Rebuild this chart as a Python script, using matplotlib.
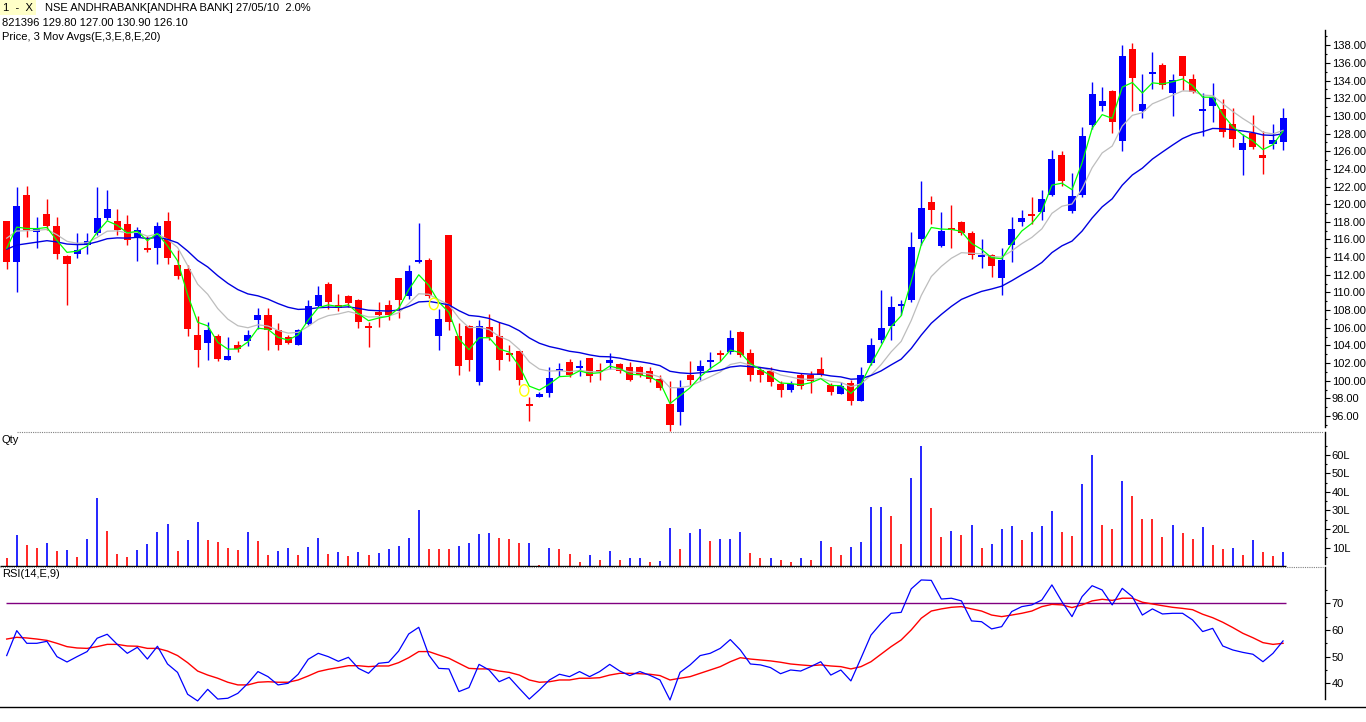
import numpy as np
import matplotlib
matplotlib.use("Agg")
import matplotlib.pyplot as plt
from matplotlib.lines import Line2D
from matplotlib.patches import Rectangle, Ellipse
from matplotlib.ticker import MultipleLocator, FixedLocator, FuncFormatter

# ---------------- data ----------------
opens = [118.1, 113.4, 121.0, 116.8, 118.9, 117.5, 114.1, 114.4, 115.4, 116.7,
         118.4, 118.1, 117.7, 116.3, 115.0, 115.0, 118.1, 113.1, 112.6, 105.2,
         104.3, 105.1, 102.4, 104.1, 104.5, 106.9, 107.5, 105.7, 104.9, 104.0,
         106.4, 108.5, 111.0, 108.6, 109.6, 109.1, 106.2, 107.8, 108.6, 111.6,
         109.6, 113.5, 113.7, 105.1, 116.5, 105.1, 106.2, 99.9, 106.1, 105.1,
         103.1, 103.4, 97.3, 98.1, 98.6, 101.1, 102.1, 101.5, 102.6, 101.1,
         102.0, 101.9, 101.6, 101.6, 101.1, 100.2, 97.4, 96.4, 100.6, 101.1,
         102.1, 103.1, 103.2, 105.5, 103.1, 101.2, 101.1, 99.6, 98.9, 100.7,
         100.6, 101.3, 99.5, 98.5, 99.7, 97.7, 102.0, 104.6, 106.2, 108.5,
         109.1, 116.0, 120.2, 115.3, 117.3, 118.0, 116.7, 114.0, 114.2, 111.6,
         115.4, 118.0, 118.9, 119.1, 121.0, 125.6, 119.2, 121.0, 129.0, 131.1,
         132.8, 127.1, 137.6, 130.5, 134.75, 135.8, 132.6, 136.8, 134.2, 130.5,
         131.1, 130.8, 129.1, 126.1, 128.1, 125.6, 126.8, 127.0]
highs = [118.1, 121.9, 122.1, 118.5, 120.6, 118.6, 114.2, 116.7, 116.7, 121.9,
         121.6, 119.5, 118.8, 117.4, 116.4, 118.0, 119.1, 114.8, 113.1, 107.3,
         106.6, 105.3, 105.0, 104.5, 105.8, 108.2, 108.2, 106.5, 105.2, 105.9,
         109.1, 110.7, 111.2, 109.8, 109.7, 109.3, 106.6, 108.9, 109.1, 111.6,
         113.1, 117.9, 113.9, 108.1, 116.5, 106.5, 106.3, 106.9, 107.6, 106.6,
         104.0, 103.4, 98.2, 98.7, 101.6, 102.0, 102.5, 102.3, 102.6, 102.0,
         103.1, 102.0, 102.1, 101.7, 101.5, 100.7, 100.0, 100.1, 102.2, 102.4,
         103.2, 103.5, 105.7, 105.6, 103.6, 101.6, 101.6, 100.0, 100.0, 100.9,
         101.1, 102.7, 99.7, 99.8, 100.1, 101.6, 104.8, 110.3, 109.6, 109.1,
         116.9, 122.6, 120.9, 119.1, 119.9, 118.1, 117.0, 116.1, 114.3, 115.0,
         118.5, 119.3, 120.8, 121.6, 126.1, 126.0, 123.5, 128.7, 133.8, 133.3,
         132.9, 138.0, 138.3, 134.8, 137.2, 136.0, 134.7, 136.8, 134.8, 132.6,
         133.7, 131.9, 130.9, 127.9, 130.1, 128.3, 129.1, 130.9]
lows = [112.6, 110.1, 116.3, 115.0, 117.1, 113.8, 108.6, 113.9, 114.3, 116.5,
        118.2, 116.5, 115.4, 113.6, 114.6, 113.2, 113.2, 111.5, 105.1, 101.6,
        102.3, 102.2, 102.3, 103.2, 103.9, 105.9, 103.5, 103.5, 104.2, 104.0,
        106.3, 108.4, 108.1, 107.9, 108.3, 106.0, 103.8, 106.1, 106.9, 107.1,
        109.3, 113.3, 109.4, 103.5, 105.7, 100.6, 101.1, 99.5, 104.6, 101.2,
        102.2, 99.5, 95.4, 98.1, 98.1, 100.5, 100.4, 100.5, 99.8, 100.1,
        101.3, 100.9, 100.0, 100.4, 99.9, 98.9, 94.3, 95.0, 99.5, 100.1,
        101.3, 102.2, 103.0, 102.7, 100.0, 99.9, 99.4, 98.1, 98.7, 99.1,
        98.6, 100.5, 98.4, 98.5, 97.2, 97.7, 101.8, 104.3, 104.6, 107.4,
        108.9, 115.4, 117.7, 115.2, 115.0, 116.5, 113.8, 112.8, 111.8, 109.7,
        113.5, 117.5, 117.7, 118.2, 120.9, 122.1, 119.0, 120.8, 128.5, 130.6,
        128.1, 126.0, 130.5, 129.8, 133.0, 133.0, 130.0, 132.9, 132.6, 127.7,
        129.3, 127.6, 126.5, 123.3, 126.2, 123.4, 126.3, 126.1]
closes = [113.4, 119.8, 117.1, 117.2, 117.5, 114.4, 113.2, 114.8, 115.8, 118.4,
          119.4, 117.1, 115.9, 117.1, 114.8, 117.5, 113.9, 111.9, 105.9, 103.5,
          105.8, 102.5, 102.8, 103.6, 105.2, 107.5, 105.7, 104.0, 104.3, 105.8,
          108.5, 109.7, 108.9, 108.2, 108.8, 106.6, 106.0, 107.4, 107.5, 109.1,
          112.4, 113.7, 109.6, 107.0, 106.6, 101.7, 102.3, 106.2, 104.9, 102.3,
          102.9, 100.1, 97.1, 98.5, 100.3, 101.3, 100.6, 101.7, 100.5, 101.0,
          102.4, 101.1, 100.1, 100.6, 100.2, 99.2, 95.0, 99.2, 100.1, 101.7,
          102.3, 102.9, 104.8, 102.9, 100.7, 100.6, 99.9, 98.9, 99.6, 99.4,
          100.0, 100.7, 98.7, 99.4, 97.7, 100.7, 104.1, 106.0, 108.3, 108.6,
          115.1, 119.6, 119.3, 117.0, 117.1, 116.7, 114.2, 114.2, 113.0, 113.7,
          117.2, 118.4, 118.7, 120.6, 125.1, 122.6, 120.9, 127.7, 132.5, 131.7,
          129.3, 136.8, 134.3, 131.4, 134.9, 133.5, 134.1, 134.5, 132.7, 130.8,
          132.1, 128.2, 127.4, 126.9, 126.5, 125.2, 127.3, 129.8]

# volume in lakhs and its bar colour (1 = blue, 0 = red)
volume_lakh = [4.5, 16.6, 11.25, 9.6, 12.3, 8.0, 8.6, 4.8, 14.5, 37.0,
               18.75, 6.4, 4.8, 8.6, 11.8, 18.2, 22.5, 8.0, 13.9, 23.6,
               13.9, 12.9, 9.6, 8.6, 18.2, 13.4, 5.9, 8.0, 9.6, 5.9,
               10.2, 15.0, 6.4, 7.5, 5.4, 7.5, 5.9, 7.0, 9.1, 10.7,
               15.0, 30.5, 9.1, 9.1, 9.1, 10.7, 12.3, 17.1, 17.7, 15.0,
               14.5, 12.3, 12.3, 0.5, 9.6, 9.1, 6.4, 2.1, 5.9, 3.2,
               8.0, 3.2, 4.3, 4.3, 2.1, 2.7, 20.5, 9.1, 17.7, 19.8,
               13.4, 14.5, 14.5, 18.2, 7.0, 4.3, 4.3, 3.2, 2.1, 4.3,
               3.2, 13.4, 10.2, 5.9, 10.2, 12.9, 32.1, 32.1, 26.8, 11.8,
               47.7, 64.8, 31.1, 15.5, 18.75, 16.6, 22.0, 9.6, 11.8, 19.8,
               21.4, 13.9, 18.2, 21.4, 29.5, 18.2, 16.1, 44.5, 60.0, 22.0,
               19.8, 46.1, 38.0, 25.2, 25.2, 15.5, 22.0, 17.7, 14.5, 20.9,
               11.25, 9.1, 9.6, 5.9, 13.9, 7.5, 5.4, 7.5]
volume_up = [0, 1, 0, 0, 1, 0, 1, 0, 1, 1,
             0, 0, 0, 1, 1, 1, 1, 0, 1, 1,
             0, 0, 0, 0, 1, 0, 0, 1, 1, 0,
             1, 1, 0, 1, 0, 1, 0, 1, 1, 1,
             1, 1, 0, 0, 0, 1, 1, 1, 1, 0,
             0, 0, 1, 0, 1, 0, 0, 0, 1, 0,
             1, 0, 1, 1, 0, 1, 1, 0, 1, 1,
             0, 1, 1, 1, 0, 0, 1, 0, 0, 1,
             0, 1, 0, 0, 1, 1, 1, 1, 0, 0,
             1, 1, 0, 0, 1, 0, 1, 0, 1, 1,
             1, 0, 1, 1, 1, 0, 0, 1, 1, 0,
             0, 1, 0, 0, 0, 0, 1, 0, 0, 1,
             0, 0, 1, 0, 1, 0, 0, 1]

rsi = [50.4, 59.75, 55.0, 55.0, 55.75, 50.0, 48.0, 50.0, 51.9, 56.9,
       58.4, 54.6, 51.25, 53.5, 49.1, 53.9, 47.25, 44.1, 35.9, 33.4,
       37.75, 34.1, 34.4, 36.25, 40.0, 44.4, 42.5, 39.4, 40.0, 43.4,
       49.0, 51.25, 50.0, 48.25, 49.75, 45.6, 43.75, 47.5, 47.9, 52.1,
       58.5, 61.0, 50.6, 45.6, 45.4, 36.9, 38.4, 47.1, 45.0, 40.6,
       42.25, 38.1, 34.1, 37.5, 41.25, 43.4, 42.5, 44.4, 42.5, 44.4,
       47.1, 44.6, 42.9, 44.4, 43.0, 41.25, 33.75, 44.1, 46.9, 50.4,
       51.25, 53.1, 56.4, 52.5, 47.25, 46.9, 45.9, 43.6, 45.0, 44.6,
       46.25, 48.1, 43.1, 45.0, 40.9, 49.4, 58.1, 62.5, 66.25, 66.6,
       75.4, 78.75, 78.6, 71.6, 71.9, 70.9, 63.4, 63.1, 60.4, 61.25,
       66.9, 68.75, 69.4, 71.25, 76.9, 70.6, 65.0, 72.5, 76.6, 75.0,
       69.4, 75.6, 72.5, 65.6, 67.9, 66.0, 66.25, 66.25, 63.75, 59.4,
       60.6, 54.0, 52.5, 51.6, 50.9, 48.1, 51.25, 55.9]
rsi_signal = [56.6, 57.25, 57.0, 56.6, 56.1, 55.0, 53.75, 53.25, 53.1, 53.75,
              54.6, 54.6, 54.0, 53.9, 53.1, 53.1, 52.1, 50.4, 47.75, 44.6,
              43.1, 41.9, 40.4, 39.4, 39.4, 40.4, 40.6, 40.4, 40.4, 41.25,
              42.75, 44.4, 45.25, 45.9, 46.6, 46.6, 46.25, 46.5, 46.5, 47.75,
              49.6, 51.9, 51.9, 50.6, 49.4, 47.5, 45.6, 45.4, 45.4, 44.6,
              44.1, 43.1, 41.25, 40.4, 40.6, 41.25, 41.25, 41.9, 41.9, 42.1,
              43.1, 43.75, 43.75, 43.6, 43.4, 42.9, 41.25, 41.9, 42.5, 43.75,
              45.0, 46.25, 48.1, 49.6, 49.1, 48.75, 48.4, 47.9, 47.25, 46.9,
              46.6, 46.9, 46.5, 46.25, 45.4, 46.25, 48.1, 50.9, 53.75, 56.25,
              60.0, 64.4, 67.1, 67.9, 68.5, 68.75, 67.9, 67.1, 65.6, 65.0,
              65.6, 66.25, 67.1, 68.75, 69.6, 69.4, 68.4, 69.4, 70.9, 71.5,
              71.1, 71.9, 71.9, 70.4, 69.75, 69.1, 68.5, 68.1, 67.6, 65.9,
              64.6, 62.9, 60.9, 58.75, 57.1, 55.25, 54.6, 55.0]

# moving-average periods and their values on the first bar
ema_periods = [3, 8, 20]
ema_start = [115.0, 116.15, 114.9]

# yellow alert circles (bar position, price)
alert_pos = [42.5, 51.5]
alert_price = [108.7, 98.9]

price_ticks = list(range(96, 139, 2))
vol_ticks = [10, 20, 30, 40, 50, 60]
rsi_ticks = [40, 50, 60, 70]
rsi_level = 70

title_main = "NSE ANDHRABANK[ANDHRA BANK] 27/05/10  2.0%"
title_quote = "821396 129.80 127.00 130.90 126.10"
title_study = "Price, 3 Mov Avgs(E,3,E,8,E,20)"

# ---------------- figure ----------------
W, H = 1366, 722
plt.rcParams['font.family'] = ['Liberation Sans', 'DejaVu Sans']
fig = plt.figure(figsize=(W / 100, H / 100), dpi=100)
fig.patch.set_facecolor('white')

BLUE = '#0000FF'
RED = '#FF0000'
AXR = 1325.3  # pixel x of the right axis line


def add_ax(top, bottom):
    return fig.add_axes([0, (H - bottom) / H, AXR / W, (bottom - top) / H])


ax_p = add_ax(30, 432)
ax_v = add_ax(432, 567)
ax_r = add_ax(567, 707)

o = np.array(opens); hi = np.array(highs); lo = np.array(lows); c = np.array(closes)
n = len(c)
x = np.arange(n)
px_per_bar = 10.05
xl = (-6.7 / px_per_bar, (AXR - 6.7) / px_per_bar)

for ax in (ax_p, ax_v, ax_r):
    ax.set_xlim(*xl)
    ax.set_facecolor('none')
    for s in ('top', 'left', 'bottom'):
        ax.spines[s].set_visible(False)
    ax.spines['right'].set_linewidth(1.0)
    ax.xaxis.set_visible(False)
    ax.yaxis.tick_right()
    ax.tick_params(axis='y', which='major', length=3.4, width=0.8, pad=1.2,
                   labelsize=8, colors='black')
    ax.tick_params(axis='y', which='minor', length=1.6, width=0.8)

# ---- price panel ----
ax_p.set_ylim(94.19, 139.73)
ax_p.spines['right'].set_bounds(94.75, 139.73)
up = c >= o
col = np.where(up, BLUE, RED)
ax_p.vlines(x, lo, hi, colors=col, linewidth=1.0, zorder=2)
bh = np.maximum(np.abs(c - o), 0.22)
mid = (c + o) / 2
ax_p.bar(x, bh, bottom=mid - bh / 2, width=0.7, color=col, linewidth=0, zorder=3)


def ema(vals, period, seed):
    a = 2.0 / (period + 1)
    out = [seed]
    for v in vals[1:]:
        out.append(out[-1] + a * (v - out[-1]))
    return np.array(out)


e3 = ema(c, ema_periods[0], ema_start[0])
e8 = ema(c, ema_periods[1], ema_start[1])
e20 = ema(c, ema_periods[2], ema_start[2])
ax_p.plot(x, e8, color='#BDBDBD', lw=0.9, zorder=4)
ax_p.plot(x, e20, color='#0000E0', lw=1.0, zorder=4)
ax_p.plot(x, e3, color='#00FF00', lw=0.9, zorder=5)
for ap, pr in zip(alert_pos, alert_price):
    ax_p.add_patch(Ellipse((ap, pr), 0.9, 1.3, facecolor='none',
                           edgecolor='#FFFF00', lw=1.0, zorder=6))

ax_p.yaxis.set_major_locator(FixedLocator(price_ticks))
ax_p.yaxis.set_minor_locator(MultipleLocator(1))
ax_p.yaxis.set_major_formatter(FuncFormatter(lambda v, p: f"{v:.2f}"))

# ---- volume panel ----
ax_v.set_ylim(-0.54, 72.43)
ax_v.spines['right'].set_bounds(1.08, 72.43)
vcol = [BLUE if u else RED for u in volume_up]
ax_v.vlines(x, 0, volume_lakh, colors=vcol, linewidth=1.2, zorder=3)
ax_v.hlines(0, xl[0], n - 1 + 0.3, colors='black', linewidth=1.0, zorder=4)
ax_v.yaxis.set_major_locator(FixedLocator(vol_ticks))
ax_v.yaxis.set_minor_locator(FixedLocator([5, 15, 25, 35, 45, 55, 65]))
ax_v.yaxis.set_major_formatter(FuncFormatter(lambda v, p: f"{int(v)}L"))

# ---- RSI panel ----
ax_r.set_ylim(31.12, 83.61)
ax_r.spines['right'].set_bounds(34.1, 83.61)
ax_r.hlines(rsi_level, -0.1, n - 1 + 0.3, colors='#800080', linewidth=1.0, zorder=2)
ax_r.plot(x, rsi_signal, color=RED, lw=1.0, zorder=3)
ax_r.plot(x, rsi, color=BLUE, lw=0.9, zorder=4)
ax_r.yaxis.set_major_locator(FixedLocator(rsi_ticks))
ax_r.yaxis.set_minor_locator(FixedLocator([45, 55, 65, 75]))
ax_r.yaxis.set_major_formatter(FuncFormatter(lambda v, p: f"{int(v)}"))

# ---- separators ----
def fig_line(x0, x1, y, **kw):
    fig.add_artist(Line2D([x0 / W, x1 / W], [1 - y / H, 1 - y / H],
                          transform=fig.transFigure, **kw))


fig_line(17, 1323, 432.3, color='#808080', lw=0.8, linestyle=(0, (1, 1)))
fig_line(0, 1323, 567.3, color='#808080', lw=0.8, linestyle=(0, (1, 1)))
fig_line(0, W, 707.3, color='black', lw=1.0)

# ---- texts ----
fig.add_artist(Rectangle((0, 1 - 15 / H), 36 / W, 15 / H, transform=fig.transFigure,
                         facecolor='#FFFFC8', edgecolor='none'))


def ftext(xp, yp, s, **kw):
    fig.text(xp / W, 1 - yp / H, s, va='center', ha='left', fontsize=8,
             color='black', **kw)


ftext(3, 8, "1  -  X")
ftext(45, 8, title_main)
ftext(2, 23.5, title_quote)
ftext(2, 37, title_study)
ftext(2, 440, "Qty")
ftext(2, 574, "RSI(14,E,9)")

fig.savefig("out.png", dpi=100)
